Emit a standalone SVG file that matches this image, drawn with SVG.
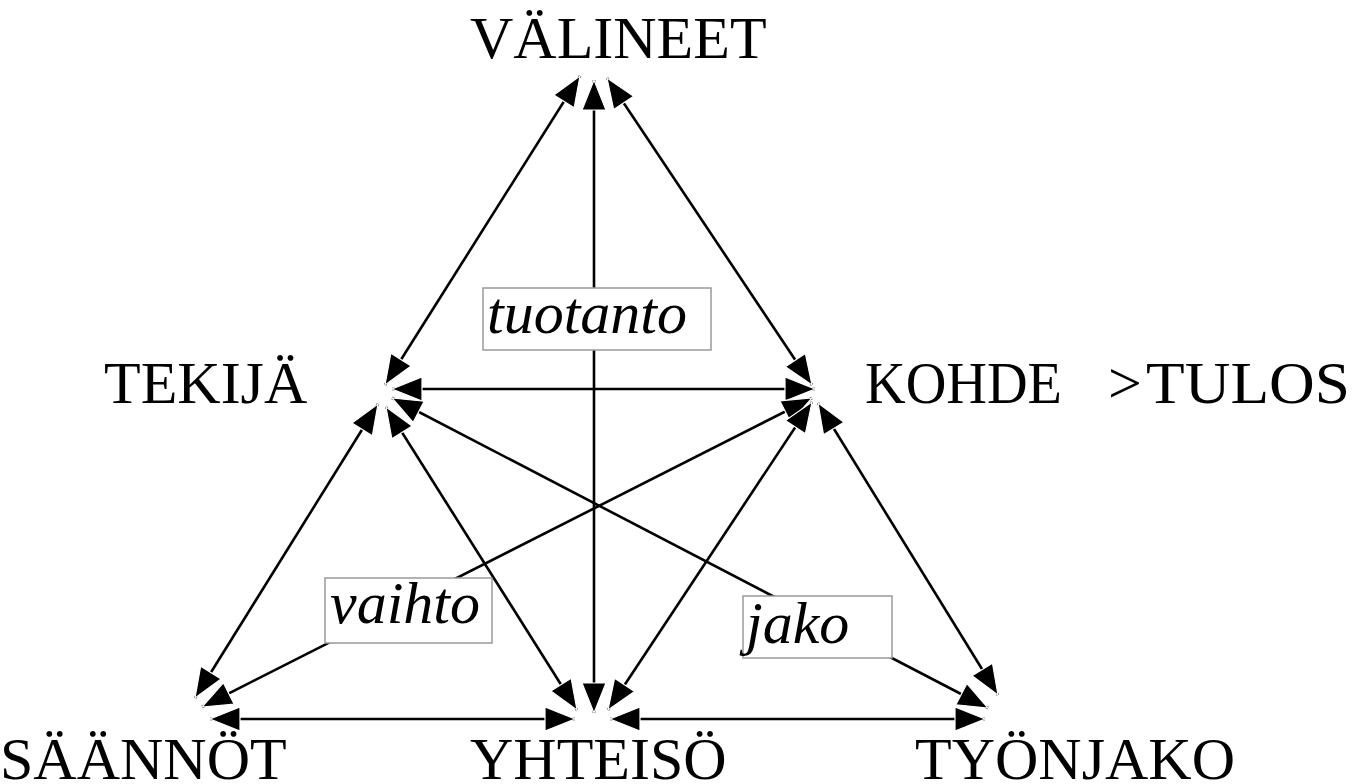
<svg xmlns="http://www.w3.org/2000/svg" width="1360" height="784" viewBox="0 0 1360 784">
<style>
.lbl{font-family:"Liberation Serif","Times New Roman",serif;font-size:60px;fill:#000}
.it{font-family:"Liberation Serif","Times New Roman",serif;font-size:60px;font-style:italic;fill:#000}
.box{fill:#fff;stroke:#999;stroke-width:1.5}
.c{stroke:#000;stroke-width:2.6;fill:none;marker-start:url(#ah);marker-end:url(#ah)}
</style>
<defs>
<marker id="ah" markerUnits="userSpaceOnUse" markerWidth="34" markerHeight="28" refX="30" refY="12" orient="auto-start-reverse" viewBox="-1 -1 34 28">
<path d="M0,0 L30,12 L0,24 z" fill="#000" stroke="#fff" stroke-width="1.2"/>
</marker>
</defs>
<rect width="1360" height="784" fill="#fff"/>
<g id="connectors">
<line class="c" x1="580" y1="76" x2="385" y2="385"/>
<line class="c" x1="607" y1="78" x2="812" y2="385"/>
<line class="c" x1="594" y1="80" x2="594" y2="713"/>
<line class="c" x1="392" y1="389" x2="815" y2="389"/>
<line class="c" x1="378" y1="404" x2="195" y2="698"/>
<line class="c" x1="386" y1="407" x2="577" y2="710"/>
<line class="c" x1="392" y1="398" x2="988" y2="708"/>
<line class="c" x1="812" y1="398" x2="202" y2="707"/>
<line class="c" x1="812" y1="402" x2="608" y2="710"/>
<line class="c" x1="818" y1="403" x2="998" y2="695"/>
<line class="c" x1="210" y1="719" x2="575" y2="719"/>
<line class="c" x1="610" y1="719" x2="985" y2="719"/>
</g>
<g id="label-tuotanto">
<rect class="box" x="483" y="288" width="228" height="62"/>
<text class="it" x="487" y="333">tuotanto</text>
</g>
<g id="label-vaihto">
<rect class="box" x="325" y="578" width="167" height="65"/>
<text class="it" x="330" y="623">vaihto</text>
</g>
<g id="label-jako">
<rect class="box" x="743" y="596" width="149" height="62"/>
<text class="it" x="746" y="643">jako</text>
</g>
<g id="node-valineet"><text class="lbl" x="470" y="58">VÄLINEET</text></g>
<g id="node-tekija"><text class="lbl" x="104" y="403">TEKIJÄ</text></g>
<g id="node-kohde"><text class="lbl" x="865" y="403" textLength="197" lengthAdjust="spacingAndGlyphs">KOHDE</text><text class="lbl" x="1108" y="403">&gt;</text><text class="lbl" x="1146" y="403" textLength="204" lengthAdjust="spacingAndGlyphs">TULOS</text></g>
<g id="node-saannot"><text class="lbl" x="0" y="779">SÄÄNNÖT</text></g>
<g id="node-yhteiso"><text class="lbl" x="470" y="779">YHTEISÖ</text></g>
<g id="node-tyonjako"><text class="lbl" x="915" y="779">TYÖNJAKO</text></g>
</svg>
